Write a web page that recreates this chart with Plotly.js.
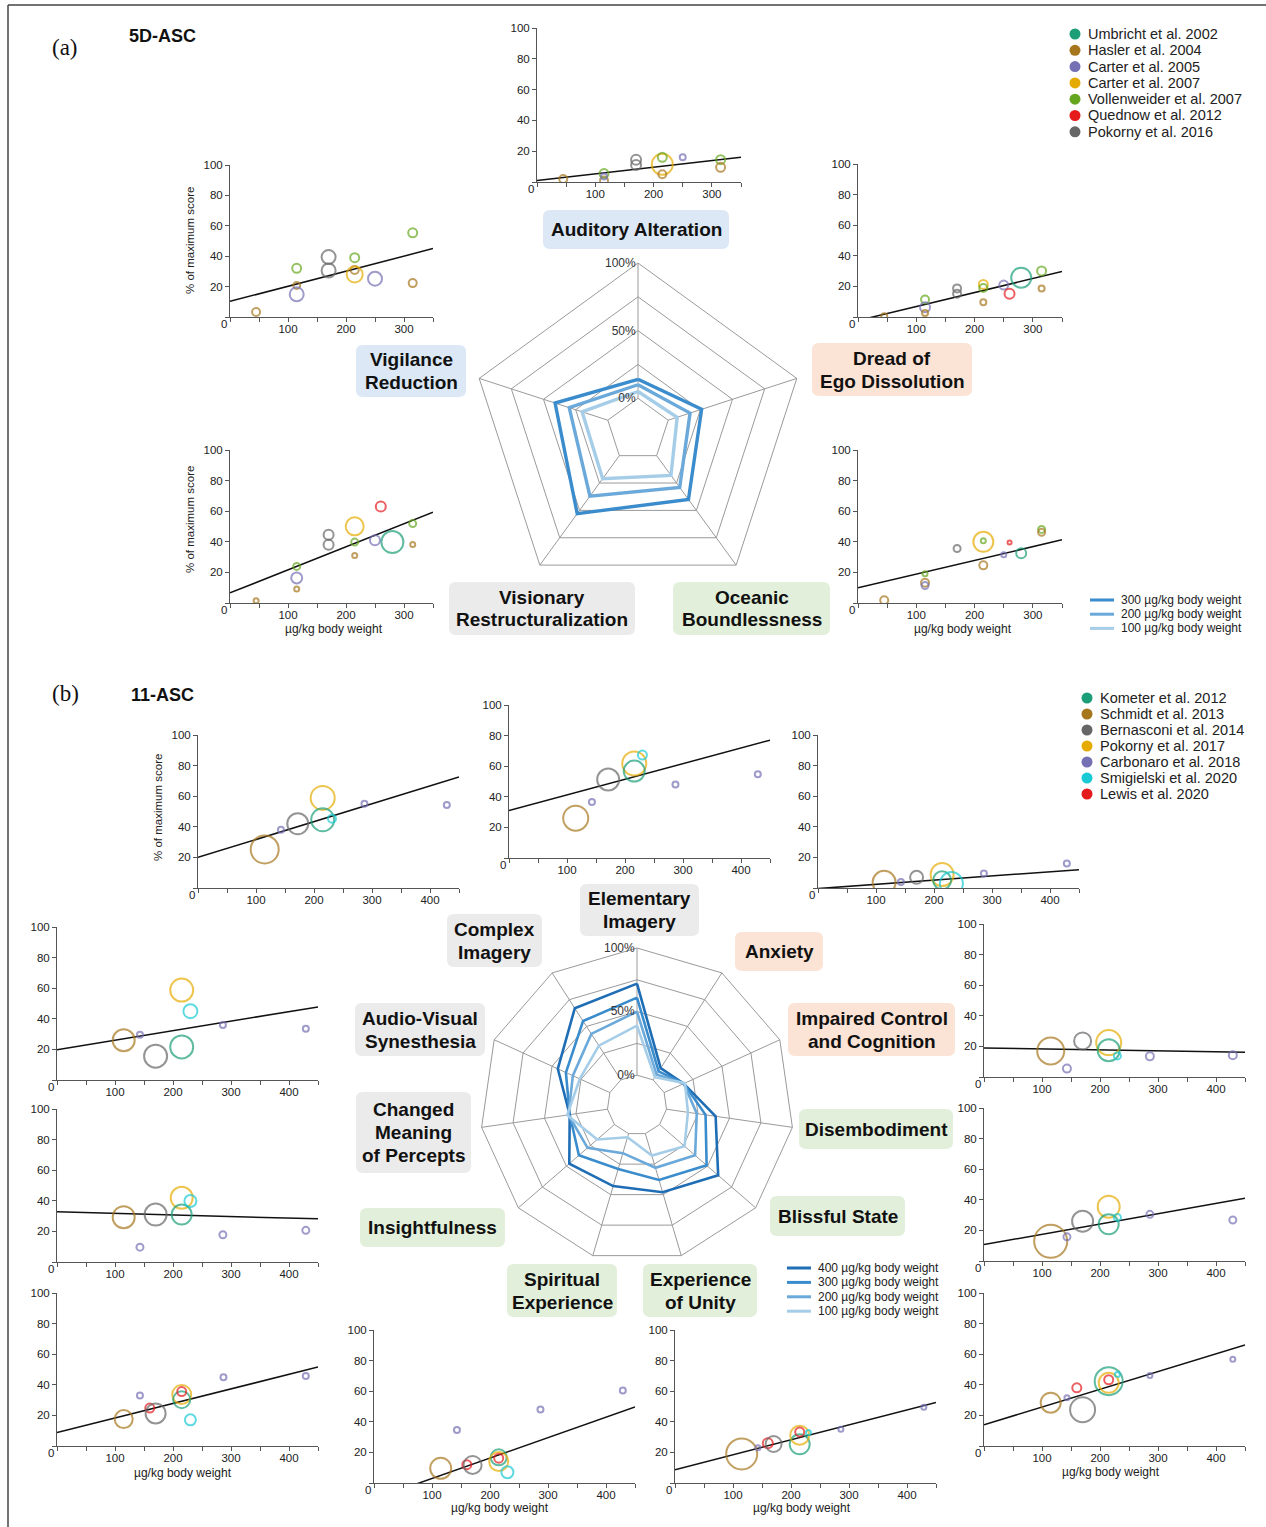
<!DOCTYPE html>
<html><head><meta charset="utf-8">
<script src="https://cdn.plot.ly/plotly-3.0.1.min.js"></script>
<style>html,body{margin:0;padding:0;background:#fff}#chart{width:1266px;height:1527px}</style>
</head><body><div id="chart"></div>
<script>
// ---------------- DATA ----------------
const studiesA = ['Umbricht et al. 2002','Hasler et al. 2004','Carter et al. 2005','Carter et al. 2007','Vollenweider et al. 2007','Quednow et al. 2012','Pokorny et al. 2016'];
const colorsA  = ['#1b9e77','#a6761d','#7570b3','#e6ab02','#66a61e','#e41a1c','#666666'];
const studiesB = ['Kometer et al. 2012','Schmidt et al. 2013','Bernasconi et al. 2014','Pokorny et al. 2017','Carbonaro et al. 2018','Smigielski et al. 2020','Lewis et al. 2020'];
const colorsB  = ['#1b9e77','#a6761d','#666666','#e6ab02','#7570b3','#19c9d3','#e41a1c'];

// rows: [study index, dose (µg/kg), % of maximum score, study weight (bubble diameter)]
const audRows = [[1,45,2,8],[1,115,1,8],[4,115,5.5,9],[2,115,3.5,6],[6,170,14.5,10],[6,170,11,10],[3,215,11.5,21],[4,215,16,9],[1,215,5,8],[2,250,16,6],[4,315,14.5,9],[1,315,9.5,9]];
const vigRows = [[1,45,3.3,8],[4,115,32,9],[1,115,20.8,7],[2,115,14.9,14],[6,170,39.4,14],[6,170,30.6,14],[4,215,39,9],[1,215,31,8],[3,215,28,16],[2,250,25.2,14],[4,315,55.4,9],[1,315,22.3,8]];
const dreRows = [[1,45,0.5,6],[4,115,11.4,8],[2,115,6.4,10],[1,115,2.6,6],[6,170,18.7,8],[6,170,15.2,8],[3,215,21.3,9],[4,215,19,8],[1,215,9.7,6],[2,250,20.9,9],[5,260,15.2,10],[0,280,25.7,20],[4,315,30.1,9],[1,315,18.7,6]];
const visRows = [[1,45,1.5,5],[4,115,23.9,7],[2,115,16.4,11],[1,115,9.2,5],[6,170,44.6,10],[6,170,38,10],[3,215,50.1,18],[4,215,39.8,7],[1,215,31,5],[2,250,41,10],[5,260,63,10],[0,280,39.8,22],[4,315,51.9,7],[1,315,38.3,5]];
const oceRows = [[1,45,1.8,8],[4,115,19.1,5],[1,115,13.2,8],[2,115,11.4,7],[6,170,35.6,7],[3,215,40,20],[4,215,40.7,5],[1,215,24.6,8],[2,250,31.6,5],[5,260,39.6,4],[0,280,32.5,10],[4,315,48.1,7],[1,315,46.2,7]];

const cplxRows = [[1,115,25.2,28],[4,143,38.1,6],[2,172,42,21],[3,215,58.9,24],[0,215,44.6,23],[5,231,45.3,8],[4,287,55,6],[4,429,54.3,6]];
const elemRows = [[1,115,26,25],[4,143,36.6,6],[2,171,51.3,22],[3,216,61.8,24],[0,216,56.8,21],[5,230,67.3,9],[4,287,48,6],[4,429,54.8,6]];
const anxRows  = [[1,114,3.7,23],[4,143,4,6],[2,170,7,13],[3,214,8.8,23],[0,214,5,18],[5,230,2.9,23],[4,286,9.5,6],[4,429,16,6]];
const avsRows  = [[1,115,26,22],[4,143,29.5,6],[2,170,15.6,23],[3,215,58.8,23],[5,230,45,14],[0,215,21.6,23],[4,286,35.9,6],[4,429,33.5,6]];
const iccRows  = [[1,115,17,27],[4,143,5.5,8],[2,170,23.6,17],[3,215,22.5,25],[0,215,17.5,22],[5,230,13.8,7],[4,286,13.5,8],[4,429,14.2,8]];
const cmpRows  = [[1,115,29.3,22],[4,143,9.7,7],[2,170,31,22],[3,215,42,22],[0,215,31,20],[5,230,39.9,12],[4,286,17.8,7],[4,429,20.7,7]];
const disRows  = [[1,115,12.9,33],[4,143,15.8,7],[2,170,26,21],[3,215,35.5,22],[0,215,24,20],[5,230,28.5,7],[4,286,30.5,7],[4,429,26.8,7]];
const insRows  = [[1,115,17.6,18],[4,143,33,6],[6,160,24.8,9],[2,170,21.3,20],[3,215,33.6,19],[0,215,30.3,17],[6,215,35.6,9],[5,230,17.1,11],[4,287,45,6],[4,429,45.7,6]];
const blsRows  = [[1,115,28.3,20],[4,143,31.5,5],[6,160,38,9],[2,170,23.7,25],[0,215,42.4,28],[3,215,41.3,20],[6,215,43.3,9],[5,230,46.7,5],[4,286,46.1,5],[4,429,56.7,5]];
const spiRows  = [[1,115,9.6,21],[4,143,34.6,6],[6,160,12,9],[2,170,11.8,18],[0,215,16.8,16],[3,215,14,19],[6,215,16.2,9],[5,230,7,12],[4,287,48,6],[4,429,60.4,6]];
const uniRows  = [[1,115,19,31],[4,143,23,5],[6,160,26,10],[2,170,25.5,16],[0,215,25.3,20],[3,215,31.2,19],[6,215,33.4,9],[5,230,33,5],[4,286,35.2,5],[4,429,49.5,5]];

// regression lines: [value at dose 0, value at max dose]
const audTrend = [1, 16], vigTrend = [10.3, 45], dreTrend = [-2.3, 29.7], visTrend = [6.6, 59.3], oceTrend = [9.9, 41.3];
const cplxTrend = [20, 72.6], elemTrend = [31, 77], anxTrend = [-0.4, 12], avsTrend = [19.8, 47.8], iccTrend = [19, 16.2],
      cmpTrend = [32.8, 28.2], disTrend = [10.7, 41], insTrend = [8.8, 51.6], blsTrend = [13.9, 66], spiTrend = [-10.4, 49.7], uniTrend = [8.6, 52.7];

// radar charts
const radarCatsA = ['Auditory Alteration','Dread of Ego Dissolution','Oceanic Boundlessness','Visionary Restructuralization','Vigilance Reduction'];
const radarDosesA = ['300 µg/kg body weight','200 µg/kg body weight','100 µg/kg body weight'];
const radarA300 = [14, 26, 40, 53, 41];
const radarA200 = [10, 17, 29, 37, 30];
const radarA100 = [5, 7, 18, 21, 20];

const radarCatsB = ['Elementary Imagery','Anxiety','Impaired Control and Cognition','Disembodiment','Blissful State','Experience of Unity','Spiritual Experience','Insightfulness','Changed Meaning of Percepts','Audio-Visual Synesthesia','Complex Imagery'];
const radarDosesB = ['400 µg/kg body weight','300 µg/kg body weight','200 µg/kg body weight','100 µg/kg body weight'];
const radarB400 = [72, 11, 17, 39, 61, 48, 43, 47, 30, 45, 67];
const radarB300 = [61, 8, 17, 31, 49, 38, 29, 37, 30, 38, 55];
const radarB200 = [50, 5, 17, 24, 37, 28, 16, 28, 31, 32, 43];
const radarB100 = [39, 2.5, 18, 17, 26, 18, 3, 18, 32, 26, 32];

const xTicksA = [0,50,100,150,200,250,300,350];
const xTicksB = [0,50,100,150,200,250,300,350,400,450];
const yTicks = [0,20,40,60,80,100];

// ---------------- LAYOUT HELPERS ----------------
const W = 1266, H = 1527;
const PX = v => v / W, PY = v => 1 - v / H;
const FONT = 'Liberation Sans, Arial, sans-serif';

const panels = [
  {rows: audRows, trend: audTrend, ticks: xTicksA, colors: colorsA, box: [537,741,28,182]},
  {rows: vigRows, trend: vigTrend, ticks: xTicksA, colors: colorsA, box: [230,433,165,317]},
  {rows: dreRows, trend: dreTrend, ticks: xTicksA, colors: colorsA, box: [858,1062,164,317]},
  {rows: visRows, trend: visTrend, ticks: xTicksA, colors: colorsA, box: [230,433,450,603]},
  {rows: oceRows, trend: oceTrend, ticks: xTicksA, colors: colorsA, box: [858,1062,450,603]},
  {rows: cplxRows, trend: cplxTrend, ticks: xTicksB, colors: colorsB, box: [198,459,735,888]},
  {rows: elemRows, trend: elemTrend, ticks: xTicksB, colors: colorsB, box: [509,770,705,858]},
  {rows: anxRows,  trend: anxTrend,  ticks: xTicksB, colors: colorsB, box: [818,1079,735,888]},
  {rows: avsRows,  trend: avsTrend,  ticks: xTicksB, colors: colorsB, box: [57,318,927,1080]},
  {rows: iccRows,  trend: iccTrend,  ticks: xTicksB, colors: colorsB, box: [984,1245,924,1077]},
  {rows: cmpRows,  trend: cmpTrend,  ticks: xTicksB, colors: colorsB, box: [57,318,1109,1262]},
  {rows: disRows,  trend: disTrend,  ticks: xTicksB, colors: colorsB, box: [984,1245,1108,1261]},
  {rows: insRows,  trend: insTrend,  ticks: xTicksB, colors: colorsB, box: [57,318,1293,1446]},
  {rows: blsRows,  trend: blsTrend,  ticks: xTicksB, colors: colorsB, box: [984,1245,1293,1446]},
  {rows: spiRows,  trend: spiTrend,  ticks: xTicksB, colors: colorsB, box: [374,635,1330,1483]},
  {rows: uniRows,  trend: uniTrend,  ticks: xTicksB, colors: colorsB, box: [675,936,1330,1483]}
];

const traces = [];
const annotations = [];
const shapes = [];
const layout = {
  width: W, height: H, margin: {l:0, r:0, t:0, b:0},
  paper_bgcolor: '#fff', plot_bgcolor: 'rgba(0,0,0,0)',
  showlegend: false, font: {family: FONT, color: '#222'}
};

const axisCommon = {
  showline: true, linecolor: '#555', linewidth: 1, ticks: 'outside', ticklen: 4, tickwidth: 1,
  tickcolor: '#555', showgrid: false, zeroline: false, fixedrange: true,
  tickfont: {family: FONT, size: 11.5, color: '#222'}
};

panels.forEach((p, i) => {
  const n = i + 1;
  const xa = n === 1 ? 'x' : 'x' + n, ya = n === 1 ? 'y' : 'y' + n;
  const xmax = p.ticks[p.ticks.length - 1];
  const [x0, x1, yt, yb] = p.box;
  layout[n === 1 ? 'xaxis' : 'xaxis' + n] = Object.assign({}, axisCommon, {
    domain: [PX(x0), PX(x1)], anchor: ya, range: [0, xmax], ticklabelstandoff: -3,
    tickmode: 'array', tickvals: p.ticks, ticktext: p.ticks.map(v => (v > 0 && v % 100 === 0) ? String(v) : '')
  });
  layout[n === 1 ? 'yaxis' : 'yaxis' + n] = Object.assign({}, axisCommon, {
    domain: [PY(yb), PY(yt)], anchor: xa, range: [0, 100],
    tickmode: 'array', tickvals: yTicks, ticktext: yTicks.map(v => v === 0 ? '' : String(v))
  });
  traces.push({type: 'scatter', mode: 'lines', x: [0, xmax], y: p.trend, xaxis: xa, yaxis: ya,
    line: {color: '#111', width: 1.5}, hoverinfo: 'skip'});
  traces.push({type: 'scatter', mode: 'markers', xaxis: xa, yaxis: ya,
    x: p.rows.map(r => r[1]), y: p.rows.map(r => r[2]),
    marker: {symbol: 'circle-open', size: p.rows.map(r => r[3]), color: p.rows.map(r => p.colors[r[0]]), line: {width: 2}},
    hoverinfo: 'skip'});
  annotations.push({xref: xa, yref: ya, x: 0, y: 0, text: '0', showarrow: false, xanchor: 'right', yanchor: 'top',
    xshift: -1, yshift: 1, font: {family: FONT, size: 11.5, color: '#222'}});
});

// axis titles
const yTitlePos = [[190, 241], [190, 520], [158, 808]];
yTitlePos.forEach(([x, y]) => annotations.push({xref: 'paper', yref: 'paper', x: PX(x), y: PY(y), text: '% of maximum score',
  textangle: -90, showarrow: false, xanchor: 'center', yanchor: 'middle', font: {family: FONT, size: 11.5, color: '#222'}}));
const xTitlePos = [[334, 629], [963, 629], [183, 1473], [1111, 1472], [500, 1508], [802, 1508]];
xTitlePos.forEach(([x, y]) => annotations.push({xref: 'paper', yref: 'paper', x: PX(x), y: PY(y), text: 'µg/kg body weight',
  showarrow: false, xanchor: 'center', yanchor: 'middle', font: {family: FONT, size: 12, color: '#222'}}));

// radar charts
const radarColA = ['#3a8ccc', '#6aa9d9', '#a6cde8'];
const radarColB = ['#1f6eb5', '#3a8ccc', '#6aa9d9', '#a6cde8'];
const close = a => a.concat([a[0]]);
[radarA300, radarA200, radarA100].forEach((vals, k) => traces.push({
  type: 'scatterpolar', subplot: 'polar', mode: 'lines', r: close(vals), theta: close(radarCatsA),
  line: {color: radarColA[k], width: 3.4}, hoverinfo: 'skip'}));
[radarB400, radarB300, radarB200, radarB100].forEach((vals, k) => traces.push({
  type: 'scatterpolar', subplot: 'polar2', mode: 'lines', r: close(vals), theta: close(radarCatsB),
  line: {color: radarColB[k], width: 2.6}, hoverinfo: 'skip'}));

function polarCfg(cx, cy, R, cats) {
  return {
    domain: {x: [PX(cx - R), PX(cx + R)], y: [PY(cy + R), PY(cy - R)]},
    gridshape: 'linear', hole: 0.19, bgcolor: 'rgba(0,0,0,0)',
    radialaxis: {range: [0, 100], tickmode: 'array', tickvals: [0, 25, 50, 75, 100], ticktext: ['0%', '', '50%', '', '100%'],
      angle: 90, tickangle: 90, side: 'counterclockwise', showline: false, gridcolor: '#9a9a9a', gridwidth: 1, ticks: '',
      tickfont: {family: FONT, size: 12, color: '#333'}},
    angularaxis: {rotation: 90, direction: 'clockwise', showticklabels: false, ticks: '', showline: true,
      linecolor: '#9a9a9a', linewidth: 1, gridcolor: '#9a9a9a', categoryorder: 'array', categoryarray: cats}
  };
}
layout.polar = polarCfg(638, 430, 167, radarCatsA);
layout.polar2 = polarCfg(637, 1105, 157, radarCatsB);

// rounded rectangle path in px -> paper
function rr(x0, y0, x1, y1, r) {
  const X = v => PX(v), Y = v => PY(v);
  return `M${X(x0 + r)},${Y(y0)} L${X(x1 - r)},${Y(y0)} Q${X(x1)},${Y(y0)} ${X(x1)},${Y(y0 + r)} ` +
    `L${X(x1)},${Y(y1 - r)} Q${X(x1)},${Y(y1)} ${X(x1 - r)},${Y(y1)} L${X(x0 + r)},${Y(y1)} ` +
    `Q${X(x0)},${Y(y1)} ${X(x0)},${Y(y1 - r)} L${X(x0)},${Y(y0 + r)} Q${X(x0)},${Y(y0)} ${X(x0 + r)},${Y(y0)} Z`;
}
const BLUE = '#dce8f5', PEACH = '#fbe3d5', GREEN = '#e2efda', GREY = '#ebebeb';
const labelBoxes = [
  [['Auditory Alteration'], 543, 210, 729, 249, BLUE],
  [['Vigilance','Reduction'], 356, 345, 466, 397, BLUE],
  [['Dread of','Ego Dissolution'], 812, 343, 972, 396, PEACH],
  [['Visionary','Restructuralization'], 449, 582, 635, 635, GREY],
  [['Oceanic','Boundlessness'], 673, 582, 830, 635, GREEN],
  [['Elementary','Imagery'], 580, 884, 699, 936, GREY],
  [['Complex','Imagery'], 447, 914, 542, 967, GREY],
  [['Anxiety'], 735, 932, 823, 971, PEACH],
  [['Audio-Visual','Synesthesia'], 355, 1003, 485, 1056, GREY],
  [['Impaired Control','and Cognition'], 788, 1003, 955, 1056, PEACH],
  [['Changed','Meaning','of Percepts'], 356, 1092, 471, 1173, GREY],
  [['Disembodiment'], 799, 1109, 953, 1149, GREEN],
  [['Insightfulness'], 360, 1208, 505, 1247, GREEN],
  [['Blissful State'], 770, 1196, 905, 1236, GREEN],
  [['Spiritual','Experience'], 507, 1264, 617, 1317, GREEN],
  [['Experience','of Unity'], 643, 1264, 757, 1317, GREEN]
];
const LINE_GAP = 23;
labelBoxes.forEach(([lines, x0, y0, x1, y1, c]) => {
  shapes.push({type: 'path', xref: 'paper', yref: 'paper', path: rr(x0, y0, x1, y1, 7), fillcolor: c, line: {width: 0}, layer: 'below'});
  const cy = (y0 + y1) / 2, cx = (x0 + x1) / 2;
  lines.forEach((t, k) => {
    const ly = cy + (k - (lines.length - 1) / 2) * LINE_GAP;
    annotations.push({xref: 'paper', yref: 'paper', x: PX(cx), y: PY(ly), text: '<b>' + t + '</b>',
      showarrow: false, xanchor: 'center', yanchor: 'middle', font: {family: FONT, size: 19, color: '#111'}});
  });
});

// study legends
function studyLegend(names, cols, x, y0, dy) {
  names.forEach((nm, k) => {
    const cy = y0 + k * dy;
    shapes.push({type: 'circle', xref: 'paper', yref: 'paper', xsizemode: 'pixel', ysizemode: 'pixel',
      xanchor: PX(x), yanchor: PY(cy), x0: -5.5, x1: 5.5, y0: -5.5, y1: 5.5, fillcolor: cols[k], line: {width: 0}});
    annotations.push({xref: 'paper', yref: 'paper', x: PX(x + 11), y: PY(cy), text: nm, showarrow: false,
      xanchor: 'left', yanchor: 'middle', font: {family: FONT, size: 14.5, color: '#222'}});
  });
}
studyLegend(studiesA, colorsA, 1075, 34, 16.3);
studyLegend(studiesB, colorsB, 1087, 698, 16);

// dose legends
function doseLegend(names, cols, x, y0, dy, w) {
  names.forEach((nm, k) => {
    const cy = y0 + k * dy;
    shapes.push({type: 'line', xref: 'paper', yref: 'paper', x0: PX(x), x1: PX(x + 24), y0: PY(cy), y1: PY(cy),
      line: {color: cols[k], width: w}});
    annotations.push({xref: 'paper', yref: 'paper', x: PX(x + 29), y: PY(cy), text: nm, showarrow: false,
      xanchor: 'left', yanchor: 'middle', font: {family: FONT, size: 12, color: '#222'}});
  });
}
doseLegend(radarDosesA, radarColA, 1090, 600, 14.2, 3);
doseLegend(radarDosesB, radarColB, 787, 1268, 14.4, 3);

// panel labels
[['(a)', 65, 48], ['(b)', 65, 693]].forEach(([t, x, y]) => annotations.push({xref: 'paper', yref: 'paper', x: PX(x), y: PY(y), text: t,
  showarrow: false, xanchor: 'center', yanchor: 'middle', font: {family: 'Liberation Serif, Times New Roman, serif', size: 23, color: '#111'}}));
[['5D-ASC', 163, 36], ['11-ASC', 163, 695]].forEach(([t, x, y]) => annotations.push({xref: 'paper', yref: 'paper', x: PX(x), y: PY(y), text: '<b>' + t + '</b>',
  showarrow: false, xanchor: 'center', yanchor: 'middle', font: {family: FONT, size: 18, color: '#111'}}));

// frame
shapes.push({type: 'line', xref: 'paper', yref: 'paper', x0: PX(8), x1: 1, y0: PY(5), y1: PY(5), line: {color: '#444', width: 1.5}});
shapes.push({type: 'line', xref: 'paper', yref: 'paper', x0: PX(8), x1: PX(8), y0: PY(5), y1: 0, line: {color: '#444', width: 1.5}});

layout.annotations = annotations;
layout.shapes = shapes;

Plotly.newPlot('chart', traces, layout, {displayModeBar: false, staticPlot: true});
</script></body></html>
